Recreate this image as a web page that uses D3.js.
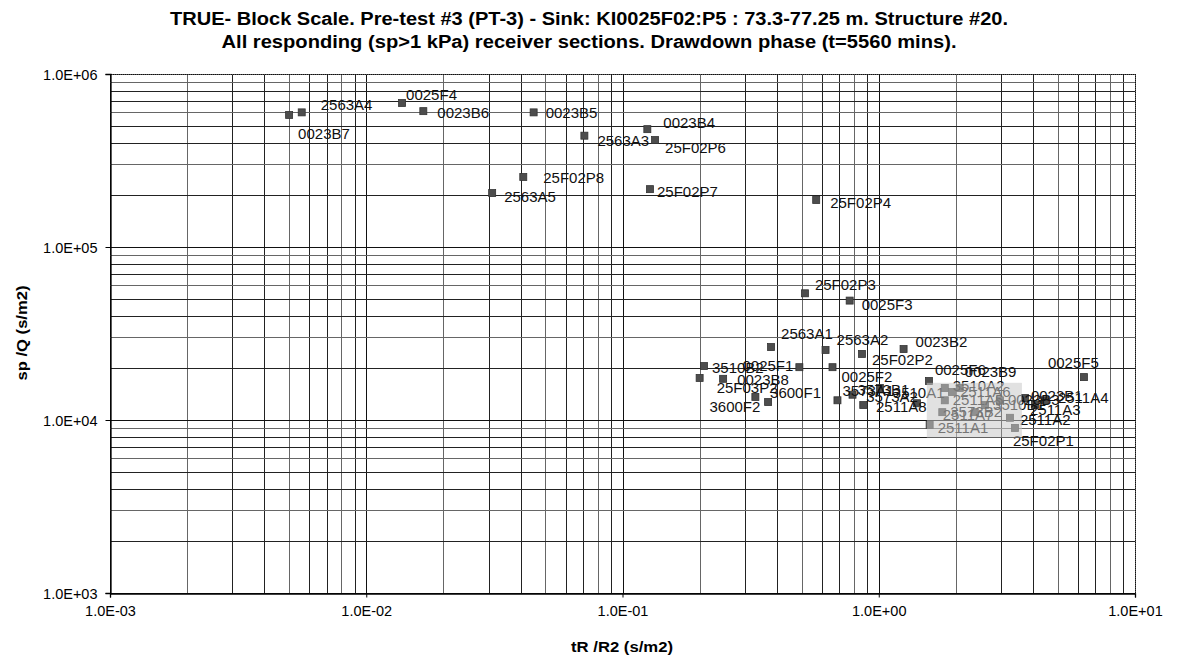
<!DOCTYPE html>
<html>
<head>
<meta charset="utf-8">
<script src="https://cdn.jsdelivr.net/npm/d3@7"></script>
<style>
  html, body { margin: 0; padding: 0; background: #fff; }
  svg { display: block; font-family: "Liberation Sans", Arial, sans-serif; }
</style>
</head>
<body>
<svg id="chart" width="1178" height="663"></svg>
<script>
// Receiver sections: name, tR/R2 (s/m2), sp/Q (s/m2)
const sections = [
  "0023B7", "2563A4", "0025F4", "0023B6", "0023B5", "2563A3", "0023B4", "25F02P6",
  "25F02P8", "2563A5", "25F02P7", "25F02P4", "25F02P3", "0025F3", "2563A1", "2563A2",
  "0023B2", "25F02P2", "3510B2", "0025F1", "25F03P2", "0023B8", "3600F2", "3600F1",
  "0025F2", "3573A1", "3573B1", "3573A2", "3510A1", "2511A8", "0025F6", "0023B9",
  "3510A2", "2511A5", "2511A6", "3573B2", "2511A7", "2511A1", "0023B3", "3510B1",
  "0023B1", "2511A3", "2511A4", "2511A2", "25F02P1", "0025F5"
];
const tR_R2 = [
  0.0050, 0.0056, 0.0138, 0.0167, 0.045, 0.071, 0.125, 0.134,
  0.041, 0.031, 0.128, 0.57, 0.515, 0.77, 0.38, 0.62,
  1.25, 0.86, 0.208, 0.49, 0.20, 0.247, 0.33, 0.37,
  0.66, 0.69, 0.79, 0.87, 1.01, 1.41, 1.57, 2.07,
  1.81, 1.81, 1.93, 1.77, 2.37, 1.58, 2.97, 2.60,
  3.72, 4.07, 4.45, 3.25, 3.40, 6.32
];
const spQ = [
  5.8e5, 6.0e5, 6.8e5, 6.1e5, 6.0e5, 4.4e5, 4.8e5, 4.15e5,
  2.54e5, 2.05e5, 2.16e5, 1.87e5, 5.4e4, 4.9e4, 2.64e4, 2.54e4,
  2.57e4, 2.41e4, 2.05e4, 2.02e4, 1.75e4, 1.73e4, 1.36e4, 1.27e4,
  2.02e4, 1.30e4, 1.40e4, 1.22e4, 1.53e4, 1.25e4, 1.68e4, 1.53e4,
  1.53e4, 1.30e4, 1.45e4, 1.11e4, 1.11e4, 9.35e3, 1.30e4, 1.22e4,
  1.34e4, 1.22e4, 1.30e4, 1.03e4, 9.0e3, 1.77e4
];

// Axis ticks (decades)
const xTicks = [1e-3, 1e-2, 1e-1, 1e0, 1e1];
const yTicks = [1e3, 1e4, 1e5, 1e6];

// Shaded band over the crowded group of 2511A sections (data space)
const bandX = [1.54, 3.62];
const bandY = [7.9e3, 1.64e4];

const titleLines = [
  "TRUE- Block Scale. Pre-test #3 (PT-3) - Sink: KI0025F02:P5 : 73.3-77.25 m. Structure #20.",
  "All responding (sp>1 kPa) receiver sections. Drawdown phase (t=5560 mins)."
];
const xTitle = "tR /R2 (s/m2)";
const yTitle = "sp /Q (s/m2)";

// Label placement relative to the marker (pixels); default is to the right
const labelPlace = {
  "0023B7": [9, 24], "2563A4": [19, -2], "0025F4": [4, -3], "0023B6": [14, 7],
  "0023B5": [12, 6], "2563A3": [13, 10], "0023B4": [16, -1], "25F02P6": [10, 13],
  "25F02P8": [20, 6], "2563A5": [12, 9], "25F02P7": [7, 8], "25F02P4": [14, 8],
  "25F02P3": [10, -3], "0025F3": [12, 9], "2563A1": [10, -8], "2563A2": [11, -5],
  "0023B2": [12, -2], "25F02P2": [10, 11], "3510B2": [8, 7], "0025F1": [-6, 4, "end"],
  "25F03P2": [17, 15], "0023B8": [14, 6], "3600F2": [5, 15, "end"], "3600F1": [2, -4],
  "0025F2": [9, 15], "3573A1": [5, -4], "3573B1": [5, 0], "3573A2": [3, -3],
  "3510A1": [13, 10], "2511A8": [-41, 9], "0025F6": [6, -6], "0023B9": [5, -11],
  "3510A2": [8, 3], "2511A5": [8, 5], "2511A6": [8, 5], "3573B2": [8, 5],
  "2511A7": [-32, 8], "2511A1": [8, 8], "0023B3": [8, 5], "3510B1": [8, 5],
  "0023B1": [6, 3], "2511A3": [-5, 10], "2511A4": [13, 3], "2511A2": [10, 7],
  "25F02P1": [-2, 18], "0025F5": [-36, -9]
};

const plotL = 110, plotR = 1135, plotT = 74, plotB = 593;

const svg = d3.select("#chart");
const x = d3.scaleLog().domain([1e-3, 1e1]).range([plotL, plotR]);
const y = d3.scaleLog().domain([1e3, 1e6]).range([plotB, plotT]);

const sci = v => {
  const e = Math.round(Math.log10(v));
  const s = e < 0 ? "-" : "+";
  return "1.0E" + s + String(Math.abs(e)).padStart(2, "0");
};

// Minor + major grid values for each log decade
function gridValues(scale) {
  const [a, b] = scale.domain();
  const vals = [];
  for (let e = Math.round(Math.log10(a)); e < Math.round(Math.log10(b)); e++) {
    for (let m = 1; m <= 9; m++) vals.push(m * Math.pow(10, e));
  }
  vals.push(b);
  return vals;
}

const grid = svg.append("g");
grid.selectAll("line.gx").data(gridValues(x)).join("line")
  .attr("x1", d => Math.round(x(d)) + 0.5).attr("x2", d => Math.round(x(d)) + 0.5)
  .attr("y1", plotT).attr("y2", plotB)
  .attr("stroke", (d, i) => i % 9 === 0 ? "#111" : (i % 3 === 1 ? "#666" : "#222"))
  .attr("stroke-width", 1);
grid.selectAll("line.gy").data(gridValues(y)).join("line")
  .attr("y1", d => Math.round(y(d)) + 0.5).attr("y2", d => Math.round(y(d)) + 0.5)
  .attr("x1", plotL).attr("x2", plotR)
  .attr("stroke", (d, i) => i % 9 === 0 ? "#111" : (i % 3 === 2 ? "#666" : "#222"))
  .attr("stroke-width", 1);

// Dotted frame on top and right
svg.append("path")
  .attr("d", `M${plotL},${plotT + 0.5}H${plotR + 0.5}V${plotB}`)
  .attr("fill", "none").attr("stroke", "#555").attr("stroke-dasharray", "1,1");

// Axes
const xAxis = d3.axisBottom(x).tickValues(xTicks).tickFormat(sci).tickSize(4).tickPadding(8);
const yAxis = d3.axisLeft(y).tickValues(yTicks).tickFormat(sci).tickSize(5).tickPadding(8);
const gx = svg.append("g").attr("transform", `translate(0,${plotB + 0.5})`).call(xAxis);
const gy = svg.append("g").attr("transform", `translate(${plotL + 0.5},0)`).call(yAxis);
[gx, gy].forEach(g => {
  g.select(".domain").attr("stroke", "#000").attr("stroke-width", 1.3);
  g.selectAll(".tick line").attr("stroke", "#000");
  g.selectAll(".tick text").attr("font-size", 14.5).attr("fill", "#000")
    .attr("font-family", "'Liberation Sans', Arial, sans-serif");
});
gy.selectAll(".tick text").attr("dy", "0.35em");

// Markers
const pts = sections.map((n, i) => ({ name: n, tx: tR_R2[i], sq: spQ[i] }));
svg.append("g").selectAll("rect").data(pts).join("rect")
  .attr("x", d => x(d.tx) - 3.5).attr("y", d => y(d.sq) - 3.5)
  .attr("width", 7).attr("height", 7)
  .attr("fill", "#4d4d4d").attr("stroke", "#333").attr("stroke-width", 0.8);

// Point labels
svg.append("g").selectAll("text").data(pts).join("text")
  .attr("x", d => x(d.tx) + (labelPlace[d.name] ? labelPlace[d.name][0] : 10))
  .attr("y", d => y(d.sq) + (labelPlace[d.name] ? labelPlace[d.name][1] : 5))
  .attr("text-anchor", d => (labelPlace[d.name] && labelPlace[d.name][2]) || "start")
  .attr("font-size", 15).attr("fill", "#111")
  .text(d => d.name);

// Grey band over the crowded 2511A group
svg.append("rect")
  .attr("x", x(bandX[0])).attr("y", y(bandY[1]))
  .attr("width", x(bandX[1]) - x(bandX[0])).attr("height", y(bandY[0]) - y(bandY[1]))
  .attr("fill", "#c8c8c8").attr("opacity", 0.55);

// Titles
const titleWidths = [838, 735];
svg.append("g").selectAll("text").data(titleLines).join("text")
  .attr("x", 589).attr("y", (d, i) => 25 + i * 23)
  .attr("text-anchor", "middle").attr("font-weight", "bold").attr("font-size", 18)
  .attr("textLength", (d, i) => titleWidths[i]).attr("lengthAdjust", "spacingAndGlyphs")
  .attr("fill", "#000").text(d => d);

svg.append("text").attr("x", 622).attr("y", 652).attr("text-anchor", "middle")
  .attr("font-weight", "bold").attr("font-size", 14.5)
  .attr("textLength", 102).attr("lengthAdjust", "spacingAndGlyphs").text(xTitle);
svg.append("text").attr("transform", "translate(27,333) rotate(-90)")
  .attr("text-anchor", "middle").attr("font-weight", "bold").attr("font-size", 14.5)
  .attr("textLength", 95).attr("lengthAdjust", "spacingAndGlyphs").text(yTitle);
</script>
</body>
</html>
